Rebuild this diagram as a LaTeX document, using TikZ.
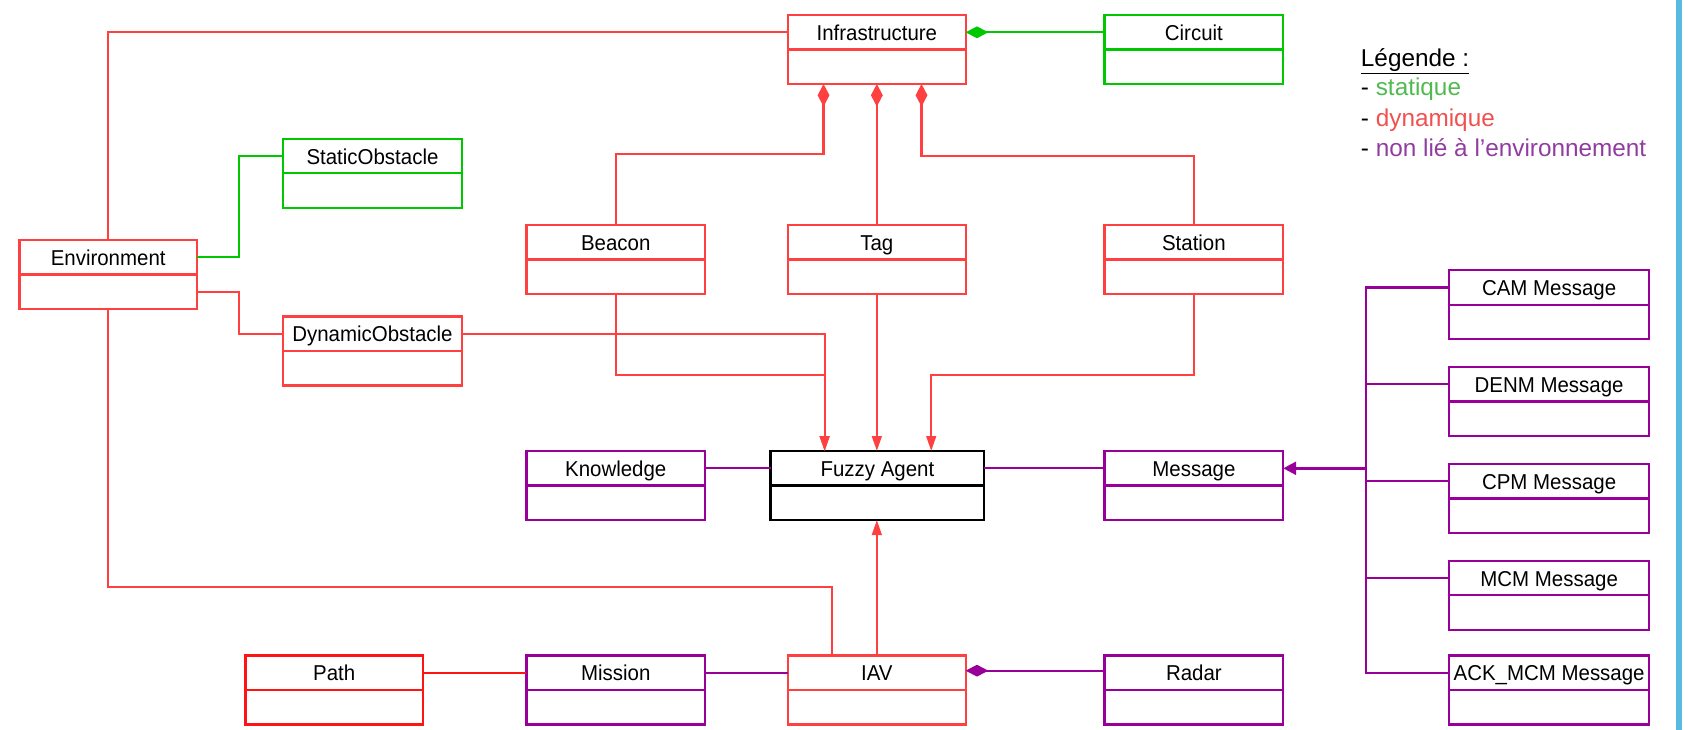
\documentclass[tikz,border=0pt]{standalone}
\usepackage{fontspec}
\setmainfont{Liberation Sans}
\newfontfamily\boxfont[FakeStretch=0.95]{Liberation Sans}
\usetikzlibrary{arrows.meta,calc}

\definecolor{cred}{RGB}{255,64,64}
\definecolor{cpure}{RGB}{255,20,20}
\definecolor{cgreen}{RGB}{0,200,0}
\definecolor{cpurple}{RGB}{153,0,153}
\definecolor{lgreen}{RGB}{80,185,80}
\definecolor{lred}{RGB}{240,80,80}
\definecolor{lpurple}{RGB}{145,60,160}
\definecolor{cblue}{RGB}{90,185,225}

% #1 name, #2 x, #3 y, #4 width, #5 colour, #6 text, #7 extra style
\newcommand\umlcls[7]{%
  \node[clsbox, draw=#5, minimum width=#4pt, #7] (#1) at (#2,#3) {};
  \draw[line width=2pt, #5, #7] (#1.west) -- (#1.east);
  \node[clstext, anchor=base] (#1-t) at ($(#1.north)+(0,23.5)$) {#6};
  \coordinate (#1-uw) at ($(#1.north west)+(0,16)$);
  \coordinate (#1-ue) at ($(#1.north east)+(0,16)$);
  \coordinate (#1-lw) at ($(#1.north west)+(0,48)$);
  \coordinate (#1-le) at ($(#1.north east)+(0,48)$);
}

\begin{document}
\begin{tikzpicture}[x=1pt,y=-1pt,
  clsbox/.style={draw, line width=2.1pt, minimum height=64pt, anchor=north west, inner sep=0pt, outer sep=0pt},
  clstext/.style={font=\boxfont\fontsize{20}{24}\selectfont, inner sep=0pt, text=black},
  conn/.style={line width=2.1pt},
  tip/.style={-{Triangle[length=14pt,width=9pt]}},
  dia/.style={{Diamond[length=21pt,width=11pt]}-},
  legtext/.style={font=\fontsize{22.6}{26}\selectfont, inner sep=0pt, anchor=base west},
]
\useasboundingbox (0,0) rectangle (1568,678);

% classes
\umlcls{infra}{732}{14}{165}{cred}{Infrastructure}{}
\umlcls{circuit}{1026}{14}{166}{cgreen}{Circuit}{}
\umlcls{sobs}{263}{129}{166}{cgreen}{StaticObstacle}{}
\umlcls{env}{18}{223}{165}{cred}{Environment}{}
\umlcls{dobs}{263}{294}{166}{cred}{DynamicObstacle}{}
\umlcls{beacon}{489}{209}{166}{cred}{Beacon}{}
\umlcls{tag}{732}{209}{165}{cred}{Tag}{}
\umlcls{station}{1026}{209}{166}{cred}{Station}{}
\umlcls{know}{489}{419}{166}{cpurple}{Knowledge}{}
\umlcls{fuzzy}{716}{419}{198}{black}{Fuzzy Agent}{line width=2.5pt}
\umlcls{msg}{1026}{419}{166}{cpurple}{Message}{}
\umlcls{cam}{1346}{251}{186}{cpurple}{CAM Message}{}
\umlcls{denm}{1346}{341}{186}{cpurple}{DENM Message}{}
\umlcls{cpm}{1346}{431}{186}{cpurple}{CPM Message}{}
\umlcls{mcm}{1346}{521}{186}{cpurple}{MCM Message}{}
\umlcls{ack}{1346}{609}{186}{cpurple}{ACK\_MCM Message}{}
\umlcls{path}{228}{609}{165}{cpure}{Path}{}
\umlcls{mission}{489}{609}{166}{cpurple}{Mission}{}
\umlcls{iav}{732}{609}{165}{cred}{IAV}{}
\umlcls{radar}{1026}{609}{166}{cpurple}{Radar}{}

% helper coordinates
\coordinate (fzA) at ($(fuzzy.north west)+(50,0)$);
\coordinate (fzC) at ($(fuzzy.north west)+(149,0)$);
\coordinate (inA) at ($(infra.south west)+(33,0)$);
\coordinate (inC) at ($(infra.south west)+(124,0)$);
\coordinate (iavL) at ($(iav.north west)+(41,0)$);

% environment links
\draw[conn, cred] (env.north) |- (infra-uw);
\draw[conn, cred] (env.south) -- ++(0,258) -| (iavL);
\draw[conn, cgreen] (env-ue) -- ++(39,0) |- (sobs-uw);
\draw[conn, cred] (env-le) -- ++(39,0) |- (dobs-uw);

% towards fuzzy agent
\draw[conn, cred, tip] (dobs-ue) -| (fzA);
\draw[conn, cred, tip] (beacon.south) -- ++(0,75) -| (fzA);
\draw[conn, cred, tip] (tag.south) -- (tag.south |- fuzzy.north);
\draw[conn, cred, tip] (station.south) -- ++(0,75) -| (fzC);
\draw[conn, cred, tip] (iav.north) -- (iav.north |- fuzzy.south);

% infrastructure compositions
\draw[conn, cred, dia] (inA) -- ++(0,65) -| (beacon.north);
\draw[conn, cred, dia] (infra.south) -- (tag.north);
\draw[conn, cred, dia] (inC) -- ++(0,67) -| (station.north);
\draw[conn, cgreen, dia] (infra-ue) -- (circuit-uw);

% purple links
\draw[conn, cpurple] (know-ue) -- (fuzzy-uw);
\draw[conn, cpurple] (fuzzy-ue) -- (msg-uw);
\draw[line width=2.6pt, cpurple, {Triangle[length=12pt,width=12pt]}-] (msg-ue) -- ++(77,0) coordinate (bus);
\draw[conn, cpurple] (cam-uw) -| (bus);
\draw[conn, cpurple] (denm-uw) -| (bus);
\draw[conn, cpurple] (cpm-uw) -| (bus);
\draw[conn, cpurple] (mcm-uw) -| (bus);
\draw[conn, cpurple] (ack-uw) -| (bus);

% bottom row
\draw[line width=2.4pt, cpure] (path-ue) -- (mission-uw);
\draw[conn, cpurple] (mission-ue) -- (iav-uw);
\draw[conn, cpurple, dia] ($(iav-ue)+(0,-2)$) -- ($(radar-uw)+(0,-2)$);

% legend
\node[legtext] (leg1) at (1264,62) {\underline{Légende :}};
\node[legtext] (leg2) at (1264,89) {- \textcolor{lgreen}{statique}};
\node[legtext] (leg3) at (1264,117.5) {- \textcolor{lred}{dynamique}};
\node[legtext] (leg4) at (1264,145.5) {- \textcolor{lpurple}{non lié à l’environnement}};

% right border line
\draw[cblue, line width=5.5pt] (1559.7,0) -- (1559.7,678);
\end{tikzpicture}
\end{document}
